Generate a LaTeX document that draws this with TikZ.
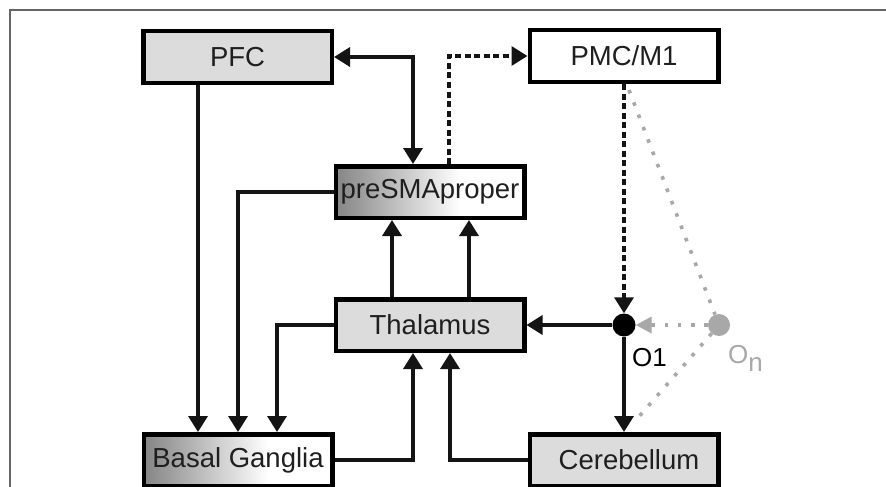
\documentclass[tikz,border=0pt]{standalone}
\usepackage{fontspec}
\setmainfont{Liberation Sans}
\usetikzlibrary{arrows.meta}
\pgfdeclarehorizontalshading{leftgrad}{100bp}{color(0bp)=(black!48); color(25bp)=(black!48); color(58bp)=(white); color(100bp)=(white)}
\definecolor{boxgray}{HTML}{DCDCDC}
\definecolor{dotgray}{HTML}{A8A8A8}
\begin{document}
\begin{tikzpicture}[x=1pt,y=-1pt,
  box/.style={draw=black, line width=4.5pt, minimum width=188.5pt, minimum height=51.5pt, inner sep=0pt,
    font=\fontsize{27.5}{30}\selectfont, text=black!88},
  plain/.style={box, fill=boxgray},
  whitebox/.style={box, fill=white},
  gradbox/.style={box, shading=leftgrad},
  conn/.style={line width=3.4pt, draw=black!92},
  arr/.style={conn, -{Triangle[length=16pt,width=19pt]}},
  arrb/.style={conn, {Triangle[length=16pt,width=19pt]}-{Triangle[length=16pt,width=19pt]}},
  dashline/.style={dash pattern=on 6pt off 3.5pt},
  gdot/.style={line width=3.6pt, draw=dotgray, dash pattern=on 3.6pt off 9.6pt},
  lab/.style={font=\fontsize{26}{28}\selectfont, inner sep=0pt}
]
\useasboundingbox (0,0) rectangle (886,487);
\fill[white] (0,0) rectangle (886,487);
\draw[line width=1.8pt, draw=black!60] (10,487) -- (10,10) -- (886,10);

\node[plain] (PFC) at (237.5,57) {PFC};
\node[whitebox] (PMC) at (624,56) {PMC/M1};
\node[gradbox] (pre) at (430,192) {preSMAproper};
\node[plain] (thal) at (430,325) {Thalamus};
\node[gradbox] (BG) at (238,460) {Basal Ganglia};
\node[plain] (cer) at (624,460) {\hspace*{10pt}Cerebellum};

\node[circle, fill=black, minimum size=23pt, inner sep=0pt] (O1) at (624,325) {};
\node[circle, fill=dotgray, minimum size=22pt, inner sep=0pt] (On) at (719,325) {};
\node[lab, text=black, anchor=west] (O1lab) at (632,358) {O1};
\node[lab, text=dotgray, anchor=west] (Onlab) at (728,358) {O\raisebox{-8pt}{n}};

\coordinate (gtop) at ([xshift=5pt,yshift=-6pt]PMC.south);
\coordinate (gbot) at ([xshift=12pt,yshift=12pt]cer.north);

% grey dotted
\draw[gdot] (gtop) -- (On);
\draw[gdot] (On) -- (gbot);
\draw[gdot, -{Triangle[length=16pt,width=16pt,fill=dotgray,color=dotgray]}] (On.west) -- (O1.east);

% solid connectors
\draw[arr] ([xshift=-39.5pt]PFC.south) -- ([xshift=-40pt]BG.north);
\draw[arr] (pre.west) -| (BG.north);
\draw[arr] (thal.west) -| ([xshift=39pt]BG.north);
\draw[arrb] (PFC.east) -| ([xshift=-17pt]pre.north);
\draw[arr] ([xshift=-38pt]thal.north) -- ([xshift=-38pt]pre.south);
\draw[arr] ([xshift=39pt]thal.north) -- ([xshift=39pt]pre.south);
\draw[arr] (BG.east) -| ([xshift=-17pt]thal.south);
\draw[arr] (cer.west) -| ([xshift=20pt]thal.south);
\draw[arr] (O1) -- (thal.east);
\draw[arr] (O1) -- (cer.north);

% dashed
\draw[arr, dashline] ([xshift=19pt]pre.north) |- (PMC.west);
\draw[arr, dashline] (PMC.south) -- (O1.north);
\end{tikzpicture}
\end{document}
